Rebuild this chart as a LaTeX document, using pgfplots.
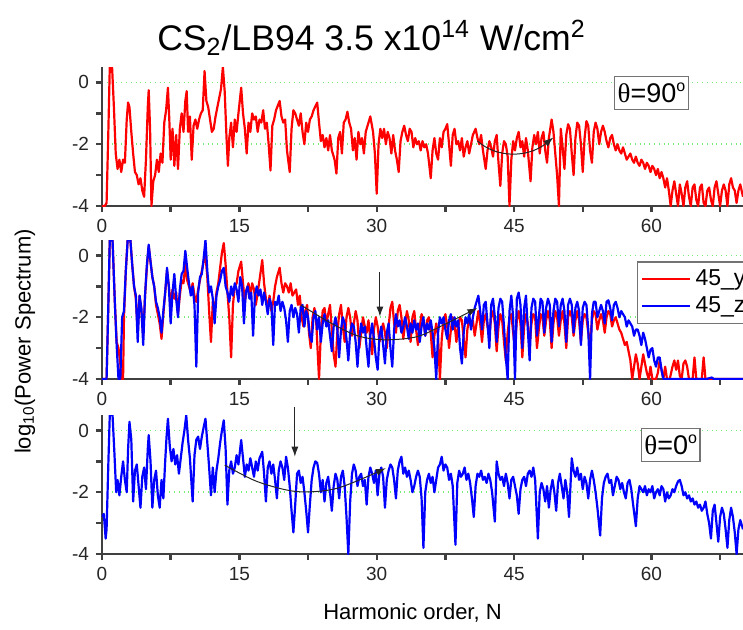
\documentclass[border=0pt]{standalone}
\usepackage{pgfplots}
\pgfplotsset{compat=1.18}
\usepackage{fontspec}
\setmainfont{Liberation Sans}
\newfontfamily\seriffont{Liberation Serif}
\usetikzlibrary{arrows.meta}
\definecolor{gridgreen}{RGB}{120,235,120}
\newcommand{\degr}{\raisebox{0.75ex}{\fontsize{8}{8}\selectfont o}}
\tikzset{
  dat/.style={line width=1.1pt, line join=round},
  ann/.style={black!85, line width=0.5pt},
  thbox/.style={draw=black!55, line width=0.6pt, fill=white, inner xsep=1.5pt, inner ysep=3.5pt, font=\fontsize{13.5}{15}\selectfont},
}
\pgfplotsset{
  panel/.style={
    width=320.5pt, height=69.5pt, scale only axis,
    xmin=0, xmax=70, ymin=-4, ymax=0.5,
    axis x line*=bottom, axis y line*=left,
    axis line style={line width=1.2pt, black!75, -},
    xtick={0,15,30,45,60}, xticklabels={0,15,30,45,60},
    minor xtick={7.5,22.5,37.5,52.5,67.5},
    ytick={-4,-2,0}, yticklabels={-4,-2,0},
    minor ytick={-3,-1},
    tick align=outside,
    major tick length=3pt, minor tick length=3pt,
    tick style={line width=1.2pt, black!75},
    ymajorgrids, grid style={gridgreen, dotted, line width=0.8pt},
    tick label style={font=\fontsize{9.5}{11}\selectfont, text=black!85},
    clip mode=individual,
  },
}
\begin{document}
\begin{tikzpicture}
% ---------- panel 1 ----------
\begin{axis}[panel, name=p1, anchor=north west, at={(0pt,0pt)}]
\addplot[dat, red] coordinates {(0,-4)(0.3,-4)(0.5,-3.9)(0.7,-1.5)(0.85,0.5)(1.1,0.5)(1.3,-0.8)(1.5,-2.3)(1.7,-2.8)(1.9,-2.5)(2.1,-2.9)(2.3,-2.5)(2.5,-2.6)(2.7,-1.2)(2.85,-0.65)(3,-0.8)(3.2,-1.6)(3.4,-2.3)(3.6,-2.9)(3.8,-3)(4,-3.3)(4.2,-3.1)(4.4,-3.5)(4.6,-3.7)(4.8,-2.5)(5,-0.8)(5.1,-0.25)(5.25,-1.5)(5.4,-4)(5.6,-3.2)(5.8,-3)(6,-2.5)(6.2,-2.9)(6.4,-2.3)(6.6,-2.6)(6.8,-1.3)(7,-0.9)(7.2,-0.17)(7.35,-1.2)(7.5,-2.5)(7.7,-1.5)(7.9,-2.7)(8.1,-1.7)(8.3,-2.8)(8.5,-1.5)(8.7,-1)(8.9,-1.6)(9.1,-0.6)(9.25,-0.28)(9.4,-1.6)(9.6,-1.1)(9.8,-2.5)(10,-1.4)(10.2,-1.2)(10.4,-1.5)(10.6,-1.2)(10.8,-1)(11,-0.9)(11.2,0.37)(11.4,-0.6)(11.6,-0.8)(11.8,-1.2)(12,-1.6)(12.2,-1.5)(12.4,-1.1)(12.6,-0.8)(12.8,-0.5)(13,-0.2)(13.2,0.5)(13.4,-0.3)(13.6,-1.8)(13.75,-2.7)(13.9,-1.8)(14.1,-1.3)(14.3,-2.1)(14.5,-1.2)(14.7,-1.6)(14.9,-1)(15.2,-0.17)(15.4,-1)(15.6,-1.5)(15.8,-2.3)(16,-1.3)(16.2,-1.6)(16.4,-1)(16.6,-1.2)(16.8,-1.1)(17,-1.6)(17.2,-1.2)(17.4,-1.3)(17.6,-0.9)(17.8,-1.5)(18,-1.3)(18.2,-2)(18.4,-2.85)(18.6,-1.4)(18.8,-1.2)(19,-0.9)(19.4,-0.6)(19.6,-1.1)(19.8,-1.3)(20,-1.2)(20.2,-2.2)(20.5,-2.9)(20.7,-1.5)(20.9,-0.9)(21.1,-1)(21.3,-1.2)(21.5,-1.4)(21.7,-1)(21.9,-1.6)(22.1,-2)(22.3,-1.3)(22.5,-1.6)(22.7,-1.2)(22.9,-1.1)(23.1,-0.9)(23.5,-0.65)(23.7,-1.3)(23.9,-1.9)(24.1,-1.7)(24.3,-2.1)(24.5,-1.8)(24.7,-2.2)(24.9,-1.7)(25.1,-2.2)(25.4,-2.5)(25.6,-2.95)(25.8,-1.8)(26,-1.6)(26.2,-2.3)(26.4,-1.3)(26.6,-1.2)(26.8,-0.95)(27,-1.3)(27.2,-1.5)(27.4,-2.2)(27.6,-1.8)(27.8,-2.5)(28,-1.6)(28.2,-2)(28.4,-1.8)(28.6,-2.3)(28.8,-1.6)(29,-1.4)(29.3,-1.1)(29.6,-1.6)(29.8,-2.3)(30,-3.6)(30.2,-2)(30.4,-1.5)(30.6,-1.8)(30.8,-1.5)(31,-2)(31.2,-1.6)(31.4,-1.8)(31.6,-2.3)(31.8,-1.7)(32,-2.2)(32.2,-2.5)(32.4,-2.9)(32.6,-1.9)(32.8,-1.6)(33,-1.4)(33.2,-1.7)(33.4,-1.9)(33.6,-1.5)(33.8,-1.6)(34,-2.1)(34.2,-1.8)(34.4,-2)(34.6,-1.9)(34.8,-2.2)(35,-1.9)(35.2,-2.1)(35.4,-2)(35.6,-2.3)(35.9,-3.1)(36.1,-2.2)(36.3,-1.8)(36.5,-2.3)(36.7,-2.5)(36.9,-1.8)(37.1,-2.1)(37.3,-1.6)(37.5,-1.5)(37.7,-1.35)(37.9,-2)(38.1,-2.7)(38.3,-1.7)(38.5,-1.5)(38.7,-2)(38.9,-1.9)(39.1,-2.2)(39.3,-1.8)(39.5,-2.4)(39.7,-2.1)(39.9,-1.9)(40.1,-2.3)(40.3,-2)(40.5,-1.7)(40.8,-1.5)(41,-1.8)(41.2,-2)(41.4,-1.7)(41.6,-2.2)(41.9,-2.8)(42.1,-2.2)(42.3,-1.9)(42.5,-2.1)(42.7,-2.4)(42.9,-1.9)(43.1,-1.7)(43.3,-2.6)(43.5,-3.35)(43.7,-2.3)(43.9,-1.9)(44.1,-2)(44.3,-2.4)(44.5,-4)(44.7,-2.5)(44.9,-1.9)(45.1,-2.2)(45.3,-1.8)(45.5,-1.6)(45.7,-2.1)(45.9,-1.9)(46.1,-2.4)(46.3,-1.8)(46.5,-2.2)(46.8,-3.2)(47,-2.1)(47.2,-1.7)(47.4,-2)(47.6,-1.6)(47.8,-2.3)(48,-1.8)(48.2,-1.6)(48.4,-2.2)(48.6,-2.6)(48.8,-1.8)(49.1,-1.2)(49.3,-1.6)(49.5,-2.3)(49.7,-3)(49.9,-4)(50.1,-1.5)(50.3,-2.1)(50.5,-2.8)(50.7,-1.7)(50.9,-1.35)(51.1,-1.5)(51.3,-2.3)(51.5,-3)(51.7,-1.8)(51.9,-1.3)(52.1,-1.4)(52.3,-2)(52.5,-2.9)(52.7,-1.8)(52.9,-1.25)(53.1,-1.4)(53.3,-2.2)(53.5,-2.6)(53.7,-1.6)(53.9,-1.3)(54.1,-1.5)(54.3,-2)(54.5,-1.6)(54.7,-1.4)(54.9,-1.6)(55.1,-1.9)(55.3,-2.1)(55.5,-1.8)(55.7,-1.7)(55.9,-2)(56.1,-2.2)(56.3,-2)(56.5,-2.2)(56.7,-2.3)(56.9,-2.1)(57.1,-2.3)(57.3,-2.5)(57.5,-2.4)(57.7,-2.3)(57.9,-2.5)(58.1,-2.6)(58.3,-2.4)(58.5,-2.6)(58.7,-2.7)(58.9,-2.5)(59.1,-2.6)(59.3,-2.8)(59.5,-2.6)(59.7,-2.7)(59.9,-2.9)(60.1,-2.7)(60.3,-2.8)(60.5,-3)(60.7,-2.8)(60.9,-3.1)(61.1,-2.9)(61.3,-3.1)(61.5,-3.4)(61.7,-3.1)(61.9,-3.5)(62.1,-4)(62.3,-3.5)(62.5,-3.2)(62.7,-3.6)(62.9,-4)(63.1,-3.3)(63.3,-3.6)(63.5,-4)(63.7,-3.4)(63.9,-3.2)(64.1,-3.7)(64.3,-4)(64.5,-3.4)(64.7,-3.3)(64.9,-3.8)(65.1,-4)(65.3,-3.4)(65.5,-3.3)(65.7,-3.9)(65.9,-4)(66.1,-3.5)(66.3,-3.4)(66.5,-3.8)(66.7,-4)(66.9,-3.4)(67.1,-3.2)(67.3,-3.6)(67.5,-4)(67.7,-3.5)(67.9,-3.3)(68.1,-3.5)(68.3,-4)(68.5,-3.3)(68.7,-3.1)(68.9,-3.4)(69.1,-3.5)(69.3,-3.9)(69.5,-3.5)(69.7,-3.3)(70,-3.7)};
\draw[ann, -{Latex[length=5pt,width=3.5pt]}] (axis cs:41,-1.89) .. controls (axis cs:43,-2.45) and (axis cs:46.5,-2.45) .. (axis cs:49.3,-1.78);
\node[thbox] at (axis cs:60,-0.34) {{\seriffont θ}=90\degr};
\end{axis}
% ---------- panel 2 ----------
\begin{axis}[panel, name=p2, anchor=north west, at={(0pt,-86.5pt)},
  legend style={at={(axis cs:58.4,-0.19)}, anchor=north west, draw=black!55, line width=0.6pt,
    font=\fontsize{11.5}{14}\selectfont, inner sep=2pt, row sep=0pt, cells={anchor=west}},
  legend image code/.code={\draw[#1] (0pt,0pt) -- (24pt,0pt);}]
\addplot[dat, red] coordinates {(0,-4)(0.5,-4)(0.7,-1.5)(0.85,0.5)(1.15,0.5)(1.4,-1.5)(1.6,-2.8)(1.8,-3)(2,-3.5)(2.1,-4)(2.3,-4)(2.4,-2)(2.6,-0.5)(2.8,0.5)(3.1,0.5)(3.3,-0.3)(3.5,-1)(3.7,-1.4)(3.9,-2.5)(4.1,-1.3)(4.3,-1.8)(4.5,-2.6)(4.7,-1.3)(4.9,-0.4)(5.1,0.3)(5.3,-0.2)(5.5,-0.7)(5.7,-1)(5.9,-1.6)(6.1,-1.9)(6.3,-2.2)(6.5,-2.7)(6.7,-1.9)(6.9,-1.2)(7.1,-0.5)(7.3,-1)(7.5,-1.6)(7.7,-1.1)(7.9,-1.4)(8.1,-1.2)(8.3,-1.9)(8.5,-1.3)(8.7,-0.8)(8.9,-0.9)(9.1,-0.3)(9.3,-0.8)(9.5,-1)(9.7,-1.2)(9.9,-0.9)(10.1,-1.3)(10.3,-1.5)(10.5,-1.1)(10.7,-0.8)(10.9,-0.5)(11.1,-0.2)(11.3,0)(11.5,-0.7)(11.7,-1.8)(11.9,-2.8)(12.1,-1.5)(12.3,-1.8)(12.5,-1.2)(12.7,-0.9)(12.9,-0.4)(13.1,0.1)(13.3,0.4)(13.5,-0.3)(13.7,-1.2)(13.9,-2)(14.1,-3.3)(14.3,-1.6)(14.5,-1)(14.7,-0.9)(14.9,-0.5)(15.2,-0.2)(15.4,-0.9)(15.6,-1.5)(15.8,-1.1)(16,-0.9)(16.2,-1.3)(16.4,-0.9)(16.6,-1.1)(16.8,-1.6)(17,-1.2)(17.2,-0.8)(17.5,-0.15)(17.7,-0.9)(17.9,-1.4)(18.1,-1.7)(18.3,-1.3)(18.5,-1.8)(18.7,-1.5)(18.9,-1)(19.1,-0.7)(19.4,-0.4)(19.6,-0.9)(19.8,-1.2)(20,-0.9)(20.2,-1)(20.4,-1.2)(20.6,-0.9)(20.8,-1.3)(21,-1.2)(21.2,-1.1)(21.4,-1.6)(21.6,-1.3)(21.8,-2)(22,-2.3)(22.2,-1.8)(22.4,-1.6)(22.6,-2.5)(22.8,-3)(23,-2)(23.2,-1.7)(23.4,-2.2)(23.7,-4)(23.9,-2.5)(24.1,-1.8)(24.3,-1.7)(24.5,-2.2)(24.7,-1.9)(24.9,-1.6)(25.1,-2.4)(25.3,-3.2)(25.5,-3.6)(25.7,-2.5)(25.9,-1.9)(26.1,-1.6)(26.3,-2.3)(26.5,-2.8)(26.7,-2)(26.9,-1.7)(27.1,-2)(27.3,-2.6)(27.5,-2.2)(27.7,-1.8)(27.9,-2.1)(28.1,-3)(28.3,-2.5)(28.5,-2)(28.7,-2.3)(28.9,-2.5)(29.1,-2.1)(29.3,-2.7)(29.5,-3.2)(29.7,-2.4)(29.9,-2)(30.1,-2.3)(30.3,-2.8)(30.5,-2.5)(30.7,-2.2)(30.9,-2.5)(31.1,-3)(31.3,-2.3)(31.5,-1.7)(31.7,-1.5)(31.9,-2.2)(32.1,-2.5)(32.3,-1.8)(32.5,-1.6)(32.7,-2)(32.9,-2.7)(33.1,-2.2)(33.3,-1.8)(33.5,-2.1)(33.7,-2.8)(33.9,-2)(34.1,-1.8)(34.3,-2.4)(34.5,-2.9)(34.7,-2.3)(34.9,-1.9)(35.1,-2.1)(35.3,-2.6)(35.5,-2.1)(35.7,-2)(35.9,-2.5)(36.1,-3.3)(36.3,-2.6)(36.5,-2.2)(36.7,-2.6)(36.9,-4)(37.1,-2.7)(37.3,-2.1)(37.5,-1.9)(37.7,-2.3)(37.9,-3)(38.1,-2.4)(38.3,-2)(38.5,-2.2)(38.7,-2.8)(38.9,-2.3)(39.1,-2)(39.3,-2.1)(39.5,-2.7)(39.7,-3.3)(39.9,-2.4)(40.1,-2)(40.3,-2.3)(40.5,-2.1)(40.7,-2.6)(40.9,-2.2)(41.1,-1.8)(41.3,-2.2)(41.5,-2.8)(41.7,-2.1)(41.9,-1.9)(42.1,-2.3)(42.3,-2.6)(42.5,-2)(42.7,-1.8)(42.9,-2.2)(43.1,-3.1)(43.3,-2.3)(43.5,-1.9)(43.7,-2.1)(43.9,-2.8)(44.1,-3.4)(44.3,-2.5)(44.5,-2)(44.7,-1.9)(44.9,-2.5)(45.1,-3)(45.3,-2.1)(45.5,-1.8)(45.7,-2.2)(45.9,-3.3)(46.1,-2.3)(46.3,-1.9)(46.5,-2.2)(46.7,-2.9)(46.9,-2.2)(47.1,-1.9)(47.3,-2)(47.5,-3)(47.7,-2.4)(47.9,-1.9)(48.1,-2)(48.3,-2.6)(48.5,-2.1)(48.7,-1.8)(48.9,-2.1)(49.1,-3)(49.3,-2.2)(49.5,-1.8)(49.7,-2)(49.9,-2.6)(50.1,-2.1)(50.3,-1.8)(50.5,-2.2)(50.7,-3)(50.9,-2)(51.1,-1.8)(51.3,-2)(51.5,-2.6)(51.7,-2.1)(51.9,-1.8)(52.1,-2.1)(52.3,-2.8)(52.5,-2.1)(52.7,-1.9)(52.9,-2)(53.1,-2.5)(53.3,-2.9)(53.5,-2.1)(53.7,-1.8)(53.9,-1.9)(54.1,-2.4)(54.3,-2.1)(54.5,-1.9)(54.7,-2.1)(54.9,-2.5)(55.1,-2)(55.3,-1.8)(55.5,-1.9)(55.7,-2.3)(55.9,-2.1)(56.1,-2)(56.3,-2.2)(56.5,-2.4)(56.7,-2.5)(56.9,-2.7)(57.1,-2.9)(57.3,-2.8)(57.5,-3.1)(57.7,-3.4)(57.9,-4)(58.1,-3.6)(58.3,-3.2)(58.5,-3.5)(58.7,-4)(58.9,-3.6)(59.1,-3.2)(59.3,-3.5)(59.5,-3.8)(59.7,-4)(59.9,-3.6)(60.1,-4)(60.5,-4)(60.7,-3.8)(60.9,-3.4)(61.1,-3.7)(61.3,-4)(61.5,-3.6)(61.7,-4)(62,-4)(62.3,-3.6)(62.5,-3.4)(62.7,-3.7)(62.9,-3.4)(63.1,-3.9)(63.3,-4)(63.5,-3.5)(63.7,-3.4)(63.9,-3.6)(64.1,-4)(64.5,-4)(64.7,-3.3)(64.9,-4)(65.5,-4)(65.7,-3.3)(65.9,-4)(70,-4)};
\addlegendentry{45\_y}
\addplot[dat, blue] coordinates {(0,-4)(0.5,-4)(0.7,-1.5)(0.85,0.5)(1.15,0.5)(1.4,-1.5)(1.6,-2.9)(1.8,-4)(2,-4)(2.2,-2)(2.4,-1.8)(2.6,-0.5)(2.8,0.5)(3.1,0.5)(3.3,-0.3)(3.5,-1)(3.7,-1.3)(3.9,-2.8)(4.1,-1.3)(4.3,-1.7)(4.5,-2.9)(4.7,-1.3)(4.9,-0.3)(5.1,0.35)(5.3,-0.2)(5.5,-0.7)(5.7,-1)(5.9,-1.5)(6.1,-1.7)(6.3,-2)(6.5,-2.5)(6.7,-1.8)(6.9,-1.2)(7.1,-0.4)(7.3,-1)(7.5,-2.2)(7.7,-1.2)(7.9,-0.6)(8.1,-1.4)(8.3,-2)(8.5,-1.1)(8.7,-0.6)(8.9,-0.5)(9.1,0.15)(9.3,-0.4)(9.5,-0.9)(9.7,-1.3)(9.9,-1)(10.1,-1.6)(10.3,-3.6)(10.5,-1.2)(10.7,-0.7)(10.9,-0.6)(11.1,-0.1)(11.3,0.5)(11.5,-0.5)(11.7,-1.2)(11.9,-1)(12.1,-1.4)(12.3,-2.2)(12.5,-1.3)(12.7,-1)(12.9,-0.8)(13.1,-0.5)(13.3,-0.4)(13.5,-1)(13.7,-1.2)(13.9,-1.5)(14.1,-1)(14.3,-1.3)(14.5,-0.9)(14.7,-1.1)(14.9,-1.5)(15.1,-0.7)(15.3,-1)(15.5,-2.2)(15.7,-1.2)(15.9,-1)(16.1,-1.4)(16.3,-1.2)(16.5,-2.6)(16.7,-1.3)(16.9,-1)(17.1,-1.3)(17.3,-1.1)(17.5,-1.6)(17.7,-1.2)(17.9,-1.5)(18.1,-1.9)(18.3,-1.4)(18.5,-1.6)(18.7,-2.9)(18.9,-1.5)(19.1,-1.6)(19.3,-1.3)(19.5,-1.8)(19.7,-1.5)(19.9,-1.7)(20.1,-2.1)(20.3,-2.8)(20.5,-1.8)(20.7,-1.6)(20.9,-2)(21.1,-1.7)(21.3,-1.9)(21.5,-2.5)(21.7,-1.7)(21.9,-1.6)(22.1,-2.3)(22.3,-1.8)(22.5,-2)(22.7,-2.6)(22.9,-2.8)(23.1,-2)(23.3,-1.8)(23.5,-2.4)(23.7,-2)(23.9,-2.8)(24.1,-2.2)(24.3,-1.9)(24.5,-2.3)(24.7,-2.1)(24.9,-2.6)(25.1,-3.1)(25.3,-2.3)(25.5,-2)(25.7,-2.4)(25.9,-3.3)(26.1,-2.4)(26.3,-2)(26.5,-2.2)(26.7,-2.7)(26.9,-3.4)(27.1,-2.5)(27.3,-2.2)(27.5,-2.3)(27.7,-2.8)(27.9,-3.6)(28.1,-2.7)(28.3,-2.2)(28.5,-2.5)(28.7,-2.3)(28.9,-3)(29.1,-3.6)(29.3,-2.6)(29.5,-2.2)(29.7,-2.7)(29.9,-3.3)(30.1,-3.7)(30.3,-2.6)(30.5,-2.3)(30.7,-2.9)(30.9,-3.5)(31.1,-2.5)(31.3,-2.2)(31.5,-3)(31.7,-3.6)(31.9,-2.4)(32.1,-1.9)(32.3,-2.3)(32.5,-2.1)(32.7,-2.5)(32.9,-2.3)(33.1,-2)(33.3,-2.3)(33.5,-2.7)(33.7,-2.2)(33.9,-2.5)(34.1,-2.1)(34.3,-2.4)(34.5,-2.2)(34.7,-2.8)(34.9,-2.3)(35.1,-2)(35.3,-2.6)(35.5,-2.2)(35.7,-2.4)(35.9,-2.1)(36.1,-2.5)(36.3,-3)(36.5,-4)(36.7,-2.5)(36.9,-2)(37.1,-2.2)(37.3,-2)(37.5,-2.4)(37.7,-2.7)(37.9,-2.1)(38.1,-1.9)(38.3,-2.4)(38.5,-2)(38.7,-2.3)(38.9,-2.1)(39.1,-3)(39.3,-3.5)(39.5,-2.5)(39.7,-2)(39.9,-2.2)(40.1,-1.9)(40.3,-2.4)(40.5,-2)(40.7,-1.7)(40.9,-1.5)(41.1,-1.3)(41.3,-1.8)(41.5,-2.4)(41.7,-1.6)(41.9,-1.5)(42.1,-2.2)(42.3,-3)(42.5,-1.6)(42.7,-1.4)(42.9,-2)(43.1,-2.8)(43.3,-1.7)(43.5,-1.4)(43.7,-1.5)(43.9,-2.3)(44.1,-3.3)(44.3,-4)(44.5,-1.8)(44.7,-1.3)(44.9,-2)(45.1,-4)(45.3,-1.4)(45.5,-1.2)(45.7,-1.6)(45.9,-3)(46.1,-1.7)(46.3,-1.3)(46.5,-2.4)(46.7,-3.4)(46.9,-1.7)(47.1,-1.4)(47.3,-1.5)(47.5,-2.6)(47.7,-2)(47.9,-1.4)(48.1,-1.5)(48.3,-2.5)(48.5,-1.7)(48.7,-1.4)(48.9,-1.6)(49.1,-2.8)(49.3,-1.8)(49.5,-1.4)(49.7,-1.5)(49.9,-2.3)(50.1,-1.6)(50.3,-1.4)(50.5,-1.8)(50.7,-2.8)(50.9,-1.6)(51.1,-1.4)(51.3,-1.6)(51.5,-2.5)(51.7,-1.7)(51.9,-1.5)(52.1,-1.8)(52.3,-2.9)(52.5,-1.7)(52.7,-1.5)(52.9,-1.6)(53.1,-2.4)(53.3,-4)(53.5,-1.9)(53.7,-1.5)(53.9,-1.5)(54.1,-2)(54.3,-1.8)(54.5,-1.6)(54.7,-1.8)(54.9,-2.2)(55.1,-1.5)(55.3,-1.45)(55.5,-1.7)(55.7,-2.1)(55.9,-1.6)(56.1,-1.5)(56.3,-1.7)(56.5,-2)(56.7,-1.8)(56.9,-1.9)(57.1,-2)(57.3,-2.3)(57.5,-2.1)(57.7,-2.2)(57.9,-2.3)(58.1,-2.6)(58.3,-2.4)(58.5,-2.4)(58.7,-2.6)(58.9,-2.9)(59.1,-2.5)(59.3,-2.7)(59.5,-3)(59.7,-3.3)(59.9,-3.05)(60.1,-3)(60.3,-3.4)(60.5,-3.6)(60.7,-3.3)(60.9,-3.3)(61.1,-3.7)(61.3,-4)(62,-4)(63,-4)(64,-4)(65,-4)(66,-4)(66.6,-3.95)(66.8,-4)(70,-4)};
\addlegendentry{45\_z}
\addplot[ann, smooth, -{Latex[length=5pt,width=3.5pt]}, forget plot] coordinates {(21.7,-1.6)(25,-2.19)(27.9,-2.6)(30.8,-2.73)(34.4,-2.63)(37.7,-2.19)(41,-1.7)};
\draw[ann, -{Latex[length=5pt,width=3.5pt]}] (axis cs:30.35,-0.53) -- (axis cs:30.35,-1.98);
\end{axis}
% ---------- panel 3 ----------
\begin{axis}[panel, name=p3, anchor=north west, at={(0pt,-174pt)}]
\addplot[dat, blue] coordinates {(0,-2.8)(0.2,-2.7)(0.4,-3.5)(0.5,-3.2)(0.7,-1)(0.85,0.5)(1.15,0.5)(1.35,-0.7)(1.55,-2)(1.7,-1.6)(1.9,-2.1)(2.1,-1.5)(2.3,-1)(2.5,-1.6)(2.7,-2)(2.85,-0.6)(3,0.28)(3.2,-0.3)(3.4,-2.3)(3.6,-1.3)(3.8,-1.1)(4,-1.8)(4.2,-2.5)(4.4,-1.5)(4.6,-1.2)(4.8,-1.9)(5,-0.6)(5.1,-0.15)(5.3,-1)(5.5,-2.5)(5.7,-1.6)(5.9,-1.3)(6.1,-2.1)(6.3,-2.5)(6.5,-1.6)(6.7,-2.2)(6.9,-1)(7.05,-0.2)(7.2,0.38)(7.4,-0.5)(7.6,-1)(7.8,-0.6)(8,-1.1)(8.2,-0.8)(8.4,-1.4)(8.6,-0.9)(8.8,-0.4)(9,0)(9.2,0.49)(9.4,-0.3)(9.6,-0.9)(9.9,-2.3)(10.1,-0.8)(10.3,-0.3)(10.5,-0.2)(10.7,-0.6)(10.9,-0.2)(11.1,0.1)(11.3,0.38)(11.5,-0.4)(11.7,-1.2)(11.9,-2.1)(12.1,-1.2)(12.3,-2)(12.5,-1.3)(12.7,-0.9)(12.9,-0.4)(13.1,0)(13.3,0.33)(13.5,-0.6)(13.7,-2.4)(13.9,-1.3)(14.1,-1)(14.3,-1.4)(14.5,-1.2)(14.7,-0.8)(14.9,-1.1)(15.2,-0.31)(15.4,-0.9)(15.6,-1.5)(15.8,-1.1)(16,-1.3)(16.2,-0.9)(16.4,-1.2)(16.6,-1.5)(16.8,-1)(17,-1.3)(17.2,-0.9)(17.5,-0.69)(17.7,-1.4)(17.9,-2.3)(18.1,-1.2)(18.3,-1)(18.5,-1.4)(18.7,-1.1)(18.9,-1.6)(19.1,-2.2)(19.3,-1.3)(19.5,-1)(19.7,-1.2)(19.9,-1.6)(20.1,-0.85)(20.3,-1.2)(20.5,-1.8)(20.7,-2.6)(20.9,-3.3)(21.1,-2.4)(21.3,-1.4)(21.5,-1.3)(21.7,-1.7)(21.9,-1.5)(22.1,-2)(22.3,-2.6)(22.5,-3.3)(22.7,-2.4)(22.9,-1.6)(23.1,-1.2)(23.3,-1)(23.5,-1.05)(23.7,-1.4)(23.9,-2)(24.1,-1.6)(24.3,-2.3)(24.5,-1.7)(24.7,-1.5)(24.9,-2)(25.1,-2.6)(25.3,-1.8)(25.5,-1.4)(25.7,-1.6)(25.9,-2.2)(26.1,-1.5)(26.3,-1.3)(26.5,-1.8)(26.7,-2.8)(26.9,-4)(27.1,-2.3)(27.3,-1.4)(27.5,-1.1)(27.7,-1.3)(27.9,-1.8)(28.1,-1.5)(28.3,-1.4)(28.5,-1.8)(28.7,-1.6)(28.9,-2.4)(29.1,-1.5)(29.3,-1.2)(29.5,-1.4)(29.7,-1.7)(29.9,-1.3)(30.1,-2.1)(30.3,-1.4)(30.5,-1.2)(30.7,-1.5)(30.9,-2.5)(31.1,-1.6)(31.3,-1.3)(31.5,-1.1)(31.7,-1.2)(31.9,-1.6)(32.1,-2.2)(32.3,-1.3)(32.5,-1)(32.7,-0.85)(32.9,-1.4)(33.1,-1.2)(33.3,-1.5)(33.5,-1.3)(33.7,-1.6)(33.9,-2)(34.1,-1.8)(34.3,-1.5)(34.5,-1.3)(34.7,-1.5)(34.9,-2.2)(35.1,-3.8)(35.3,-2)(35.5,-1.6)(35.7,-1.4)(35.9,-1.7)(36.1,-1.5)(36.3,-2)(36.5,-1.6)(36.7,-1.2)(36.9,-1.1)(37.1,-0.85)(37.3,-1.3)(37.5,-1.1)(37.7,-1.2)(37.9,-1.6)(38.1,-1.4)(38.3,-1.8)(38.6,-3.7)(38.8,-1.7)(39,-1.3)(39.2,-1.5)(39.4,-1.4)(39.6,-1.2)(39.8,-1.6)(40,-1.4)(40.2,-1.7)(40.4,-2.2)(40.6,-2.8)(40.8,-1.8)(41,-1.4)(41.2,-1.5)(41.4,-1.3)(41.6,-1.6)(41.8,-1.5)(42,-1.7)(42.2,-1.4)(42.4,-1.6)(42.6,-2)(42.9,-2.95)(43.1,-1)(43.3,-1.4)(43.5,-1.6)(43.7,-1.5)(43.9,-1.8)(44.1,-1.4)(44.3,-1.7)(44.5,-2.2)(44.7,-1.6)(44.9,-1.5)(45.1,-1.8)(45.3,-2.1)(45.5,-2.7)(45.7,-1.9)(45.9,-1.6)(46.1,-1.5)(46.3,-1.8)(46.5,-1.4)(46.7,-1.3)(46.9,-1.5)(47.1,-1.2)(47.3,-1.6)(47.6,-3.5)(47.8,-2)(48,-1.7)(48.2,-1.9)(48.4,-2.3)(48.6,-1.8)(48.8,-2.5)(49,-1.9)(49.2,-1.6)(49.4,-2)(49.6,-2.6)(49.8,-1.7)(50,-1.4)(50.2,-1.8)(50.4,-2.2)(50.6,-1.6)(50.8,-2)(51,-2.8)(51.3,-0.9)(51.5,-1.3)(51.7,-1.5)(51.9,-1.2)(52.1,-1.6)(52.3,-1.4)(52.5,-1.9)(52.7,-1.5)(52.9,-1.7)(53.1,-2.2)(53.3,-1.6)(53.5,-1.3)(53.7,-1.6)(53.9,-2)(54.1,-2.5)(54.4,-3.4)(54.6,-2.2)(54.8,-1.7)(55,-1.5)(55.2,-1.4)(55.4,-1.7)(55.6,-1.6)(55.8,-2.1)(56,-1.8)(56.2,-1.5)(56.4,-1.6)(56.6,-1.9)(56.8,-1.7)(57,-2)(57.2,-2.2)(57.4,-1.7)(57.6,-1.6)(57.8,-1.9)(58,-2.4)(58.3,-3.1)(58.5,-2.2)(58.7,-1.8)(58.9,-1.9)(59.1,-2)(59.3,-1.8)(59.5,-2.1)(59.7,-1.9)(59.9,-2)(60.1,-1.8)(60.3,-2.2)(60.5,-2)(60.7,-1.9)(60.9,-2.1)(61.1,-1.8)(61.3,-1.9)(61.5,-2.3)(61.7,-2)(61.9,-2.2)(62.1,-2.1)(62.3,-1.9)(62.5,-2)(62.7,-1.8)(62.9,-1.65)(63.1,-1.6)(63.3,-1.8)(63.5,-2.1)(63.7,-2)(63.9,-2.2)(64.1,-2.1)(64.3,-2.3)(64.5,-2.2)(64.7,-2.4)(64.9,-2.3)(65.1,-2.5)(65.3,-2.4)(65.5,-2.6)(65.7,-2.5)(65.9,-2.3)(66.1,-2.7)(66.3,-3)(66.5,-3.5)(66.7,-2.6)(66.9,-2.4)(67.1,-3)(67.3,-3.6)(67.5,-2.8)(67.7,-2.5)(67.9,-2.7)(68.1,-3.2)(68.3,-3.8)(68.5,-2.9)(68.7,-2.5)(68.9,-2.8)(69.1,-3.3)(69.3,-4)(69.5,-3.2)(69.7,-2.9)(70,-3.2)};
\addplot[ann, smooth, -{Latex[length=5pt,width=3.5pt]}, forget plot] coordinates {(13.4,-1.12)(17,-1.66)(21.3,-1.98)(25.7,-1.87)(31,-1.22)};
\draw[ann, -{Latex[length=5pt,width=3.5pt]}] (axis cs:21.06,0.77) -- (axis cs:21.06,-0.85);
\node[thbox] at (axis cs:62.1,-0.47) {{\seriffont θ}=0\degr};
\end{axis}
% ---------- titles ----------
\node[font=\fontsize{17.8}{21}\selectfont] at (134.75pt,14.5pt) {CS\textsubscript{2}/LB94 3.5 x10\textsuperscript{14} W/cm\textsuperscript{2}};
\node[rotate=90, font=\fontsize{11}{13}\selectfont] at (-38.5pt,-137.25pt) {log\textsubscript{10}(Power Spectrum)};
\node[font=\fontsize{11}{13}\selectfont] at (155.25pt,-273pt) {Harmonic order, N};
\pgfresetboundingbox
\path[use as bounding box] (-51pt,33.5pt) rectangle (320.5pt,-281pt);
\end{tikzpicture}
\end{document}
